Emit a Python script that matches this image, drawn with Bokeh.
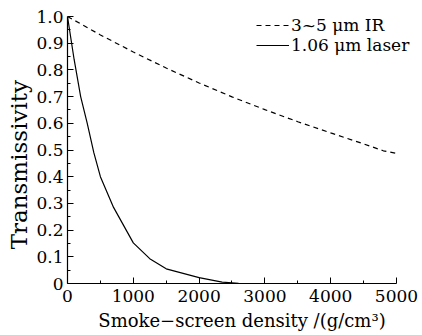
from bokeh.plotting import figure
from bokeh.models import FixedTicker, Legend, LegendItem, Range1d
from bokeh.embed import file_html
from bokeh.resources import INLINE

# Data
ir_x = [0, 500, 1000, 1500, 2000, 2500, 3000, 3500, 4000, 4500, 4800, 5000]
ir_y = [1.0, 0.931, 0.867, 0.807, 0.751, 0.699, 0.651, 0.606, 0.564, 0.523, 0.497, 0.487]

laser_x = [0, 100, 200, 300, 400, 500, 700, 1000, 1250, 1500, 2000, 2350, 2600, 2900]
laser_y = [1.0, 0.84, 0.70, 0.60, 0.49, 0.40, 0.285, 0.152, 0.093, 0.055, 0.022, 0.005, 0.001, 0.0]

x_ticks = [0, 1000, 2000, 3000, 4000, 5000]
x_minor = [500, 1500, 2500, 3500, 4500]
y_ticks = [0, 0.1, 0.2, 0.3, 0.4, 0.5, 0.6, 0.7, 0.8, 0.9, 1.0]
y_minor = [0.05, 0.15, 0.25, 0.35, 0.45, 0.55, 0.65, 0.75, 0.85, 0.95]
y_labels = {0: "0", 0.1: "0.1", 0.2: "0.2", 0.3: "0.3", 0.4: "0.4", 0.5: "0.5",
            0.6: "0.6", 0.7: "0.7", 0.8: "0.8", 0.9: "0.9", 1.0: "1.0"}

FONT = "DejaVu Serif"

p = figure(width=422, height=335, output_backend="svg", toolbar_location=None,
           x_range=Range1d(0, 5304), y_range=Range1d(0, 1.0),
           min_border_left=67, min_border_right=6, min_border_top=16, min_border_bottom=52)
p.outline_line_color = None
p.xgrid.visible = False
p.ygrid.visible = False
p.background_fill_color = "white"
p.border_fill_color = "white"

r1 = p.line(ir_x, ir_y, line_color="black", line_width=1.2, line_dash="5 4")
r2 = p.line(laser_x, laser_y, line_color="black", line_width=1.2)

for ax in (p.xaxis[0], p.yaxis[0]):
    ax.axis_line_color = "black"
    ax.axis_line_width = 1.2
    ax.major_tick_in = 6
    ax.major_tick_out = 0
    ax.minor_tick_in = 3
    ax.minor_tick_out = 0
    ax.major_tick_line_color = "black"
    ax.minor_tick_line_color = "black"
    ax.major_label_text_font = FONT
    ax.major_label_text_font_size = "17px"
    ax.major_label_text_color = "black"
    ax.axis_label_text_font = FONT
    ax.axis_label_text_font_style = "normal"
    ax.axis_label_text_color = "black"

p.xaxis[0].bounds = (0, 5000)
p.xaxis[0].ticker = FixedTicker(ticks=x_ticks, minor_ticks=x_minor)
p.yaxis[0].ticker = FixedTicker(ticks=y_ticks, minor_ticks=y_minor)
p.yaxis[0].major_label_overrides = y_labels
p.xaxis[0].major_label_standoff = 6
p.yaxis[0].major_label_standoff = 4
p.xaxis[0].axis_label = "Smoke\u2212screen density /(g/cm\u00b3)"
p.yaxis[0].axis_label = "Transmissivity\u00a0\u00a0\u00a0\u00a0"
p.xaxis[0].axis_label_text_font_size = "18px"
p.yaxis[0].axis_label_text_font_size = "23px"
p.xaxis[0].axis_label_standoff = 5
p.yaxis[0].axis_label_standoff = 1

legend = Legend(items=[LegendItem(label="3~5 \u03bcm IR", renderers=[r1]),
                       LegendItem(label="1.06 \u03bcm laser", renderers=[r2])],
                location=(189, 228))
legend.border_line_color = None
legend.background_fill_alpha = 0
legend.label_text_font = FONT
legend.label_text_font_size = "17px"
legend.label_text_color = "black"
legend.glyph_width = 33
legend.glyph_height = 20
legend.label_height = 20
legend.label_standoff = 2
legend.padding = 0
legend.spacing = 0
legend.margin = 0
p.add_layout(legend, "center")

open("out.html", "w").write(file_html(p, INLINE))
